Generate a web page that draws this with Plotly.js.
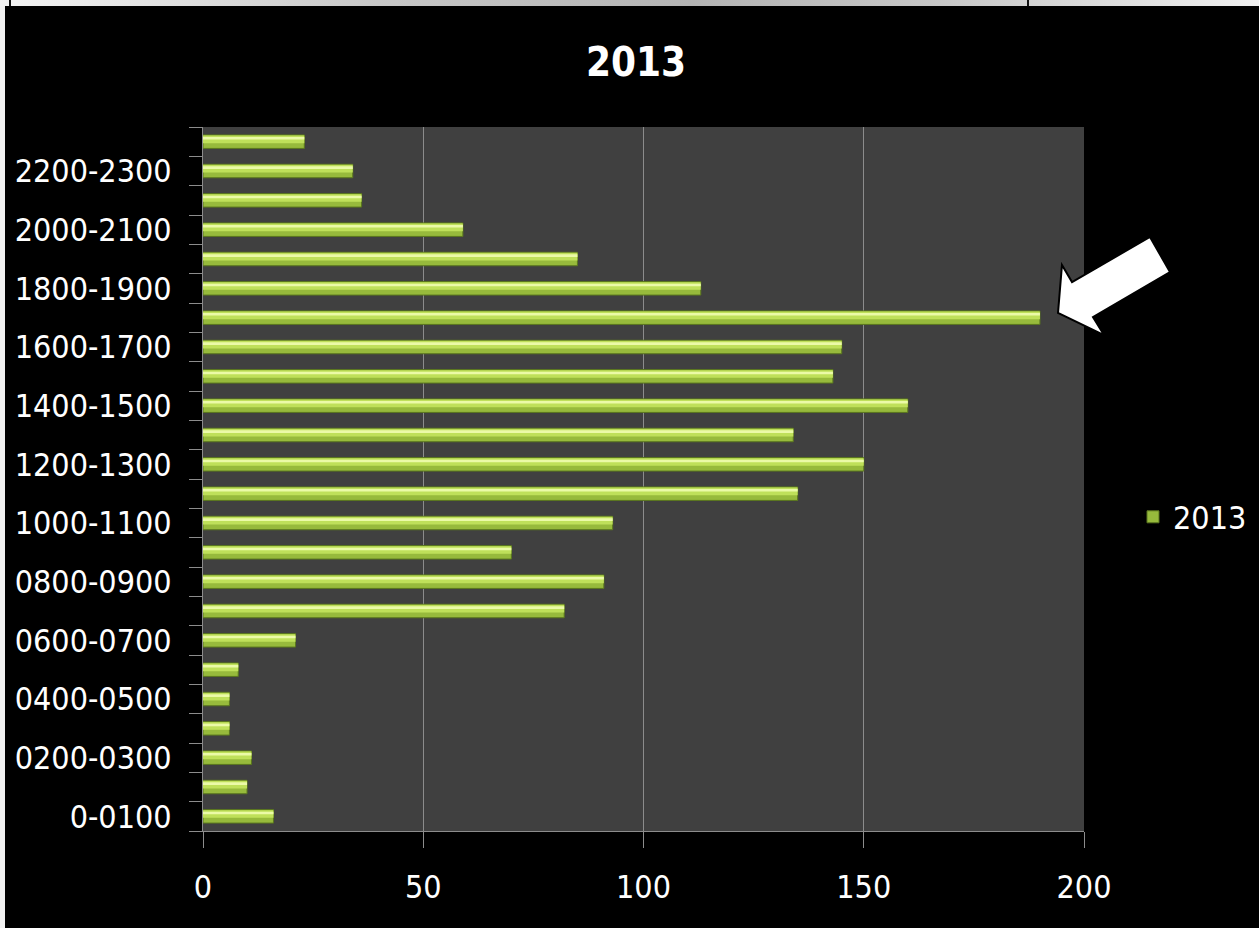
<!DOCTYPE html>
<html>
<head>
<meta charset="utf-8">
<script src="https://cdn.plot.ly/plotly-3.0.1.min.js"></script>
<style>
  html, body { margin: 0; padding: 0; background: #000; overflow: hidden; }
  #chart { position: absolute; left: 0; top: 0; width: 1259px; height: 928px; }
  #leftstrip { position: absolute; left: 0; top: 0; width: 5px; height: 928px; background: #f2f2f2; z-index: 5; }
  #topstrip { position: absolute; left: 0; top: 0; width: 1259px; height: 6px; z-index: 6;
    background: linear-gradient(to right, #f4f4f4 0%, #c8c8c8 30%, #b4b4b4 55%, #c8c8c8 75%, #f0f0f0 100%); }
  .vline { position: absolute; top: 0; width: 2px; height: 6px; background: #111; z-index: 7; }
</style>
</head>
<body>
<div id="chart"></div>
<div id="leftstrip"></div>
<div id="topstrip"></div>
<div class="vline" style="left:9px"></div>
<div class="vline" style="left:1027px"></div>
<script>
// ---- data ----
const hours = ["0-0100","0100-0200","0200-0300","0300-0400","0400-0500","0500-0600",
               "0600-0700","0700-0800","0800-0900","0900-1000","1000-1100","1100-1200",
               "1200-1300","1300-1400","1400-1500","1500-1600","1600-1700","1700-1800",
               "1800-1900","1900-2000","2000-2100","2100-2200","2200-2300","2300-2400"];
const counts2013 = [16, 10, 11, 6, 6, 8, 21, 82, 91, 70, 93, 135,
                    150, 134, 160, 143, 145, 190, 113, 85, 59, 36, 34, 23];
const seriesName = "2013";
const xTicks = [0, 50, 100, 150, 200];

// label every other category
const yTickText = hours.map((h, i) => (i % 2 === 0 ? h : ""));

const FONT = "'DejaVu Sans Condensed', 'Liberation Sans Narrow', 'DejaVu Sans', sans-serif";

const base = {
  type: "bar", orientation: "h", x: counts2013, y: hours,
  hoverinfo: "x+y"
};
const traces = [
  Object.assign({}, base, {
    name: seriesName, showlegend: true,
    width: 0.46, offset: -0.23,
    marker: { color: "#97ba3c", line: { color: "#5a761e", width: 1 } }
  }),
  Object.assign({}, base, {
    name: seriesName + " mid", showlegend: false,
    width: 0.26, offset: -0.05,
    marker: { color: "#bfe05a", line: { width: 0 } }
  }),
  Object.assign({}, base, {
    name: seriesName + " hi", showlegend: false,
    width: 0.09, offset: 0.07,
    marker: { color: "#ebfaa8", line: { width: 0 } }
  })
];

// arrow (decoration) defined in page pixels, converted to paper coords
const W = 1259, H = 928, ML = 203, MR = 175, MT = 127, MB = 97;
const PW = W - ML - MR, PH = H - MT - MB;
const arrowPx = [[1150,237],[1170,272],[1093,317],[1104,335],[1058,313],[1062,265],[1072,282]];
const toPaper = p => [(p[0] - ML) / PW, (H - MB - p[1]) / PH];
const arrowPath = arrowPx.map((p, i) => {
  const q = toPaper(p);
  return (i === 0 ? "M" : "L") + q[0].toFixed(4) + "," + q[1].toFixed(4);
}).join(" ") + " Z";

const layout = {
  width: W, height: H,
  margin: { l: ML, r: MR, t: MT, b: MB, pad: 0, autoexpand: false },
  paper_bgcolor: "#000000",
  plot_bgcolor: "#404040",
  barmode: "overlay",
  font: { family: FONT, color: "#ffffff", size: 32 },
  title: {
    text: "<b>2013</b>",
    x: 636 / W, xref: "container", xanchor: "center",
    y: 1 - 62 / H, yref: "container", yanchor: "middle",
    font: { family: FONT, size: 40, color: "#ffffff" }
  },
  xaxis: {
    range: [0, 200],
    tickmode: "array", tickvals: xTicks,
    ticks: "outside", ticklen: 16, tickcolor: "#8c8c8c", tickwidth: 1,
    ticklabelstandoff: 12,
    showgrid: true, gridcolor: "#8c8c8c", gridwidth: 1,
    showline: true, linecolor: "#8c8c8c", linewidth: 1,
    zeroline: false,
    tickfont: { family: FONT, size: 32, color: "#ffffff" },
    fixedrange: true
  },
  yaxis: {
    type: "category",
    categoryorder: "array", categoryarray: hours,
    tickmode: "array", tickvals: hours, ticktext: yTickText,
    tickson: "boundaries",
    ticks: "outside", ticklen: 13, tickcolor: "#8c8c8c", tickwidth: 1,
    ticklabelstandoff: 24,
    showgrid: false,
    showline: true, linecolor: "#8c8c8c", linewidth: 1,
    zeroline: false,
    tickfont: { family: FONT, size: 32, color: "#ffffff" },
    fixedrange: true
  },
  showlegend: true,
  legend: {
    x: (1133 - ML) / PW, xanchor: "left",
    y: (H - MB - 517) / PH, yanchor: "middle",
    bgcolor: "rgba(0,0,0,0)",
    font: { family: FONT, size: 32, color: "#ffffff" },
    itemwidth: 30
  },
  shapes: [{
    type: "path", xref: "paper", yref: "paper",
    path: arrowPath,
    fillcolor: "#ffffff",
    line: { color: "#000000", width: 2 }
  }]
};

Plotly.newPlot("chart", traces, layout, { displayModeBar: false, staticPlot: true });
</script>
</body>
</html>
